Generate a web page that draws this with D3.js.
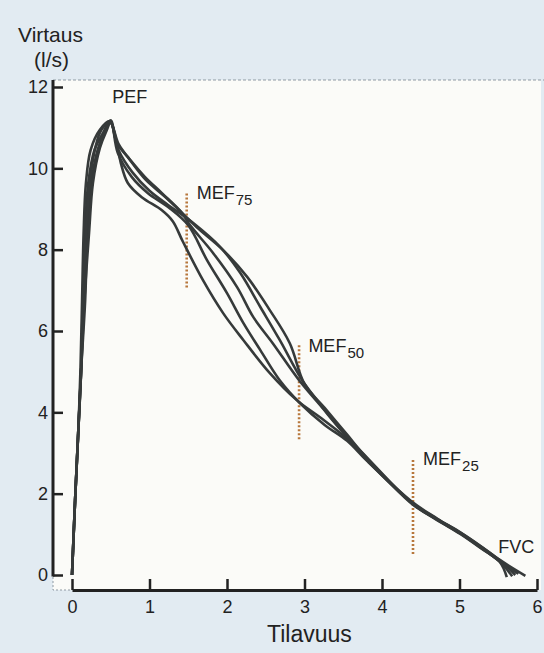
<!DOCTYPE html>
<html>
<head>
<meta charset="utf-8">
<script src="https://cdn.jsdelivr.net/npm/d3@7"></script>
<style>
  body { margin: 0; background: #e2ebf2; }
  svg { display: block; }
</style>
</head>
<body>
<svg id="chart"></svg>
<script>
// flow-volume curves: [volume (l), flow (l/s)]
const curveA = [[0,0],[0.04,1.84],[0.08,3.49],[0.12,5.11],[0.15,6.76],[0.17,8.41],[0.21,9.64],[0.29,10.45],[0.40,10.87],[0.49,11.16],
  [0.58,10.6],[0.63,10.13],[0.72,9.64],[0.90,9.29],[1.16,8.97],[1.30,8.7],[1.43,8.2],[1.69,7.25],[1.95,6.44],[2.21,5.78],[2.55,4.97],
  [2.90,4.30],[3.20,3.88],[3.52,3.40],[3.81,2.85],[4.40,1.75],[4.71,1.36],[5.01,1.01],[5.29,0.64],[5.52,0.32],[5.61,-0.05]];
const curveB = [[0,0],[0.04,1.84],[0.08,3.49],[0.12,5.11],[0.17,6.76],[0.20,8.41],[0.25,9.64],[0.33,10.45],[0.42,10.9],[0.50,11.18],
  [0.59,10.38],[0.77,9.79],[0.98,9.39],[1.24,9.05],[1.50,8.6],[1.74,7.75],[2.00,6.93],[2.21,6.20],[2.43,5.53],[2.68,4.79],
  [2.94,4.23],[3.26,3.69],[3.55,3.30],[3.81,2.80],[4.40,1.78],[4.71,1.39],[5.01,1.04],[5.29,0.68],[5.52,0.36],[5.72,0.0]];
const curveC = [[0,0],[0.04,1.84],[0.08,3.49],[0.11,5.11],[0.13,6.76],[0.15,8.41],[0.18,9.64],[0.24,10.45],[0.36,10.95],[0.49,11.16],
  [0.58,10.62],[0.72,10.28],[0.94,9.79],[1.16,9.39],[1.42,8.9],[1.52,8.61],[1.82,7.92],[2.13,7.08],[2.34,6.34],[2.59,5.70],
  [2.93,4.79],[3.20,4.18],[3.50,3.50],[3.81,2.88],[4.40,1.74],[4.71,1.35],[5.01,1.02],[5.29,0.66],[5.52,0.34],[5.76,0.03]];
const curveD = [[0,0],[0.04,1.84],[0.08,3.49],[0.12,5.11],[0.16,6.76],[0.22,8.41],[0.27,9.64],[0.36,10.5],[0.44,10.9],[0.50,11.12],
  [0.60,10.45],[0.78,9.9],[1.00,9.45],[1.24,9.1],[1.56,8.66],[1.91,8.07],[2.17,7.43],[2.43,6.59],[2.68,5.78],
  [2.97,4.79],[3.26,4.06],[3.55,3.40],[3.81,2.82],[4.40,1.76],[4.71,1.38],[5.01,1.05],[5.29,0.69],[5.52,0.37],[5.85,-0.02]];
const curveE = [[0,0],[0.04,1.84],[0.08,3.49],[0.12,5.11],[0.14,6.76],[0.18,8.41],[0.23,9.64],[0.30,10.5],[0.38,10.95],[0.49,11.14],
  [0.60,10.6],[0.75,10.2],[0.95,9.72],[1.20,9.3],[1.45,8.85],[1.61,8.55],[1.95,7.99],[2.26,7.33],[2.55,6.52],[2.81,5.70],
  [3.00,4.70],[3.26,4.11],[3.55,3.45],[3.81,2.86],[4.40,1.73],[4.71,1.37],[5.01,1.03],[5.29,0.65],[5.52,0.33],[5.68,-0.03]];
const curves = [curveA, curveB, curveC, curveD, curveE];

// MEF markers: [volume, flow from, flow to]
const mefLines = [[1.48, 7.06, 9.38], [2.93, 3.32, 5.65], [4.40, 0.49, 2.83]];
// annotations: [text, subscript, volume, flow]
const labels = [["PEF", "", 0.52, 11.6], ["MEF", "75", 1.61, 9.25], ["MEF", "50", 3.05, 5.48],
  ["MEF", "25", 4.53, 2.70], ["FVC", "", 5.50, 0.54]];

const xTicks = [0, 1, 2, 3, 4, 5, 6];
const yTicks = [0, 2, 4, 6, 8, 10, 12];

const width = 544, height = 653;
const font = "'Liberation Sans', Arial, Helvetica, sans-serif";
const ink = "#222";

const svg = d3.select("#chart").attr("width", width).attr("height", height);

const x = d3.scaleLinear().domain([0, 6]).range([72, 537]);
const y = d3.scaleLinear().domain([0, 12]).range([575, 87]);
const yAxisX = 53, xAxisY = 590;

// plot paper
svg.append("rect")
  .attr("x", yAxisX).attr("y", 80)
  .attr("width", 488).attr("height", xAxisY - 80)
  .attr("fill", "#fbfbf8");
svg.append("line")
  .attr("x1", yAxisX).attr("x2", width).attr("y1", 80).attr("y2", 80)
  .attr("stroke", "#8f9aa3").attr("stroke-width", 1).attr("stroke-dasharray", "3,2");

// y axis
const yAxisG = svg.append("g")
  .attr("transform", `translate(${yAxisX},0)`)
  .call(d3.axisLeft(y).tickValues(yTicks).tickFormat(d3.format("d")).tickSize(-10).tickPadding(5));
yAxisG.select(".domain").remove();
yAxisG.selectAll(".tick line").attr("stroke", ink).attr("stroke-width", 2.5);
yAxisG.selectAll(".tick text").attr("fill", ink)
  .style("font-family", font).style("font-size", "18px");
yAxisG.append("line")
  .attr("x1", 0).attr("x2", 0).attr("y1", 80).attr("y2", y(0) + 1.5)
  .attr("stroke", ink).attr("stroke-width", 3);

// x axis
const xAxisG = svg.append("g")
  .attr("transform", `translate(0,${xAxisY})`)
  .call(d3.axisBottom(x).tickValues(xTicks).tickFormat(d3.format("d")).tickSize(-11).tickSizeOuter(0).tickPadding(10));
xAxisG.select(".domain").attr("stroke", ink).attr("stroke-width", 3);
xAxisG.selectAll(".tick line").attr("stroke", ink).attr("stroke-width", 2.5);
xAxisG.selectAll(".tick text").attr("fill", ink)
  .style("font-family", font).style("font-size", "18px");

// faint corner join between the detached axes
svg.append("path")
  .attr("d", `M${yAxisX},${y(0) + 2}V${xAxisY}H${x(0)}`)
  .attr("fill", "none").attr("stroke", "#8f9aa3").attr("stroke-width", 1).attr("stroke-dasharray", "2,2");

// MEF dotted lines
svg.selectAll(".mef")
  .data(mefLines)
  .join("line")
  .attr("class", "mef")
  .attr("x1", d => x(d[0])).attr("x2", d => x(d[0]))
  .attr("y1", d => y(d[2])).attr("y2", d => y(d[1]))
  .attr("stroke", "#b7773c").attr("stroke-width", 2.6).attr("stroke-dasharray", "2,2");

// curves
const line = d3.line()
  .x(d => x(d[0]))
  .y(d => y(d[1]))
  .curve(d3.curveCatmullRom.alpha(0.5));

svg.selectAll(".curve")
  .data(curves)
  .join("path")
  .attr("class", "curve")
  .attr("d", line)
  .attr("fill", "none")
  .attr("stroke", "#363a3a")
  .attr("stroke-width", 2.6)
  .attr("stroke-linejoin", "round");

// annotations
const lab = svg.selectAll(".lab")
  .data(labels)
  .join("text")
  .attr("class", "lab")
  .attr("x", d => x(d[2]))
  .attr("y", d => y(d[3]))
  .attr("fill", ink)
  .style("font-family", font)
  .style("font-size", "18px");
lab.append("tspan").text(d => d[0]);
lab.filter(d => d[1]).append("tspan")
  .attr("dx", 1).attr("dy", 6).style("font-size", "15px")
  .text(d => d[1]);

// axis titles
svg.append("text").attr("x", 18).attr("y", 42).attr("fill", ink)
  .style("font-family", font).style("font-size", "21px").text("Virtaus");
svg.append("text").attr("x", 34).attr("y", 67).attr("fill", ink)
  .style("font-family", font).style("font-size", "21px").text("(l/s)");
svg.append("text").attr("x", 267).attr("y", 642).attr("fill", ink)
  .style("font-family", font).style("font-size", "23px").text("Tilavuus");
</script>
</body>
</html>
